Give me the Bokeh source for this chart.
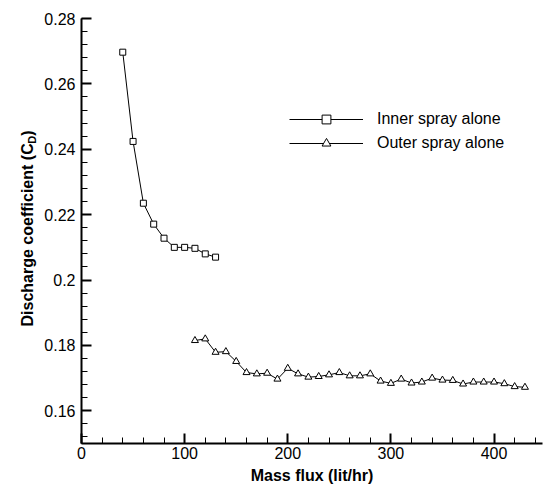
import math
from bokeh.plotting import figure
from bokeh.layouts import row
from bokeh.models import (Range1d, SingleIntervalTicker, CustomJSTickFormatter,
                          Legend, LegendItem)
from bokeh.core.properties import value
from bokeh.embed import file_html
from bokeh.resources import INLINE

# ---- data ----
inner_x = [40, 50, 60, 70, 80, 90, 100, 110, 120, 130]
inner_y = [0.2697, 0.2424, 0.2235, 0.2171, 0.2128, 0.2100, 0.2100, 0.2097, 0.2080, 0.2070]

outer_x = [110, 120, 130, 140, 150, 160, 170, 180, 190, 200, 210, 220, 230, 240, 250,
           260, 270, 280, 290, 300, 310, 320, 330, 340, 350, 360, 370, 380, 390, 400,
           410, 420, 430]
outer_y = [0.1815, 0.1820, 0.1779, 0.1781, 0.1751, 0.1717, 0.1713, 0.1715, 0.1697, 0.1730,
           0.1713, 0.1703, 0.1705, 0.1710, 0.1717, 0.1707, 0.1707, 0.1713, 0.1691, 0.1684,
           0.1697, 0.1685, 0.1688, 0.1700, 0.1694, 0.1693, 0.1682, 0.1688, 0.1688, 0.1688,
           0.1683, 0.1674, 0.1672]

series_labels = ["Inner spray alone", "Outer spray alone"]
x_title = "Mass flux (lit/hr)"
y_title_main = "Discharge coefficient (C"
y_title_sub = "D"
y_title_end = ")"

FONT = "Liberation Sans"
LEFT_W = 40
TOP, BOTTOM = 18, 45
H = 488

yr = Range1d(0.15, 0.28)

p = figure(width=543 - LEFT_W, height=H, output_backend="svg", toolbar_location=None,
           x_range=Range1d(0, 447), y_range=yr,
           min_border_left=81 - LEFT_W, min_border_top=TOP, min_border_right=1,
           min_border_bottom=BOTTOM)
p.outline_line_color = None
p.xgrid.visible = False
p.ygrid.visible = False
p.background_fill_color = "white"
p.border_fill_color = "white"

p.xaxis.ticker = SingleIntervalTicker(interval=100, num_minor_ticks=5)
p.yaxis.ticker = SingleIntervalTicker(interval=0.02, num_minor_ticks=5)
p.yaxis.formatter = CustomJSTickFormatter(code="return tick.toFixed(2).replace(/0$/, '');")

for ax in (p.xaxis[0], p.yaxis[0]):
    ax.axis_line_width = 2
    ax.axis_line_color = "black"
    ax.major_tick_in = 10
    ax.major_tick_out = 0
    ax.minor_tick_in = 6
    ax.minor_tick_out = 0
    ax.major_tick_line_width = 2
    ax.minor_tick_line_width = 1
    ax.major_tick_line_color = "black"
    ax.minor_tick_line_color = "black"
    ax.major_label_text_font = FONT
    ax.major_label_text_font_size = "16px"
    ax.major_label_text_color = "black"

p.xaxis.major_label_standoff = 3
p.yaxis.major_label_standoff = 6
p.xaxis.axis_label = x_title
p.xaxis.axis_label_text_font = FONT
p.xaxis.axis_label_text_font_size = "16px"
p.xaxis.axis_label_text_font_style = "bold"
p.xaxis.axis_label_text_color = "black"
p.xaxis.axis_label_standoff = 5

l1 = p.line(inner_x, inner_y, line_color="black", line_width=1)
m1 = p.scatter(inner_x, inner_y, marker="square", size=6, fill_color="white",
               line_color="black", line_width=1)
l2 = p.line(outer_x, outer_y, line_color="black", line_width=1)
m2 = p.scatter(outer_x, outer_y, marker="triangle", size=7, fill_color="white",
               line_color="black", line_width=1)

legend = Legend(items=[LegendItem(label=series_labels[0], renderers=[l1, m1]),
                       LegendItem(label=series_labels[1], renderers=[l2, m2])],
                location=(208, 289), glyph_width=74, glyph_height=22, label_height=22,
                spacing=2, label_standoff=14, padding=0, margin=0,
                border_line_color=None, background_fill_alpha=0,
                label_text_font=FONT, label_text_font_size="16px", label_text_color="black")
p.add_layout(legend, "center")

# ---- narrow panel on the left carrying the rotated y-axis title with subscript ----
q = figure(width=LEFT_W, height=H, output_backend="svg", toolbar_location=None,
           x_range=Range1d(0, LEFT_W), y_range=yr, x_axis_type=None, y_axis_type=None,
           min_border_left=0, min_border_right=0, min_border_top=TOP,
           min_border_bottom=BOTTOM)
q.outline_line_color = None
q.xgrid.visible = False
q.ygrid.visible = False
q.background_fill_color = "white"
q.border_fill_color = "white"

fs = 16
main_len = 11.427 * fs
sub_fs = 11
sub_len = 0.722 * sub_fs
y_start = 0.1858
base_x = 27
common = dict(angle=math.pi / 2, text_align="left", text_baseline="alphabetic",
              text_font=value(FONT), text_font_style="bold", text_color="black")
q.text(x=[base_x], y=[y_start], text=[y_title_main], x_offset=0, y_offset=0,
       text_font_size=f"{fs}px", **common)
q.text(x=[base_x], y=[y_start], text=[y_title_sub], x_offset=4, y_offset=-main_len,
       text_font_size=f"{sub_fs}px", **common)
q.text(x=[base_x], y=[y_start], text=[y_title_end], x_offset=0,
       y_offset=-(main_len + sub_len), text_font_size=f"{fs}px", **common)

layout = row(q, p, spacing=0)
open("out.html", "w").write(file_html(layout, INLINE))
